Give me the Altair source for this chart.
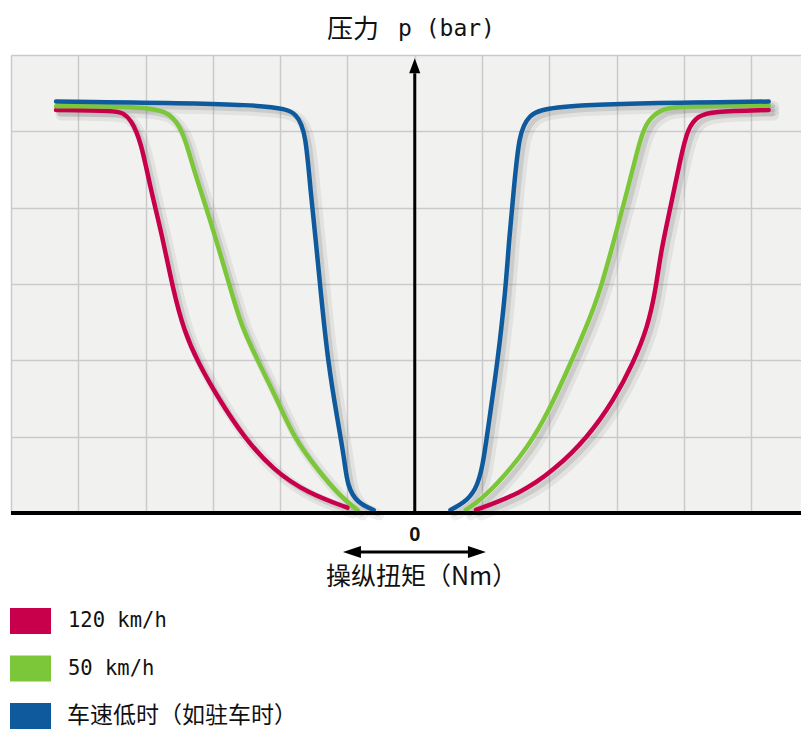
import altair as alt
import pandas as pd

# ---------------- data ----------------
series = ["120 km/h", "50 km/h", "车速低时（如驻车时）"]
colors = ["#C8004B", "#7CC63A", "#0F5A9C"]

red_left_x = [-5.33, -4.44, -4.34, -4.22, -4.07, -3.92, -3.77, -3.59, -3.43, -3.22, -2.93, -2.54, -2.10, -1.59, -1.00]
red_left_y = [5.28, 5.27, 5.24, 5.16, 4.88, 4.22, 3.70, 2.92, 2.39, 1.97, 1.52, 0.99, 0.56, 0.26, 0.07]
red_right_x = [0.91, 1.58, 2.07, 2.57, 2.96, 3.25, 3.46, 3.58, 3.66, 3.80, 3.95, 4.06, 4.21, 4.40, 5.26]
red_right_y = [0.04, 0.26, 0.56, 0.99, 1.48, 1.97, 2.43, 2.92, 3.44, 4.00, 4.65, 5.05, 5.20, 5.26, 5.28]

green_left_x = [-5.33, -3.82, -3.58, -3.43, -3.28, -3.08, -2.73, -2.59, -2.32, -2.04, -1.80, -1.44, -1.10, -0.85]
green_left_y = [5.33, 5.33, 5.18, 4.97, 4.48, 3.96, 2.92, 2.48, 1.97, 1.48, 0.99, 0.56, 0.21, 0.04]
green_right_x = [0.76, 0.98, 1.32, 1.68, 1.98, 2.32, 2.57, 2.76, 2.96, 3.16, 3.36, 3.46, 3.66, 3.91, 5.26]
green_right_y = [0.04, 0.17, 0.47, 0.86, 1.31, 1.97, 2.48, 2.92, 3.57, 4.22, 4.94, 5.14, 5.29, 5.33, 5.34]

blue_left_x = [-5.33, -2.04, -1.74, -1.62, -1.55, -1.47, -1.40, -1.29, -1.14, -1.05, -1.00, -0.85, -0.61]
blue_left_y = [5.39, 5.36, 5.23, 4.97, 4.22, 3.57, 2.92, 1.97, 1.18, 0.73, 0.34, 0.13, 0.04]
blue_right_x = [0.53, 0.73, 0.91, 1.01, 1.10, 1.23, 1.35, 1.40, 1.47, 1.55, 1.68, 1.98, 5.26]
blue_right_y = [0.04, 0.13, 0.30, 0.60, 1.18, 1.97, 2.92, 3.57, 4.22, 4.97, 5.20, 5.36, 5.39]

x_grid = [-6, -5, -4, -3, -2, -1, 0, 1, 2, 3, 4, 5]
y_grid = [0, 1, 2, 3, 4, 5, 6]

title_top_cjk = "压力"
title_top_lat = "p (bar)"
title_bottom = "操纵扭矩（Nm）"
zero_label = "0"

# ---------------- build table ----------------
rows = []
for name, parts in [
    (series[0], [(red_left_x, red_left_y), (red_right_x, red_right_y)]),
    (series[1], [(green_left_x, green_left_y), (green_right_x, green_right_y)]),
    (series[2], [(blue_left_x, blue_left_y), (blue_right_x, blue_right_y)]),
]:
    for k, (xs, ys) in enumerate(parts):
        for i, (xv, yv) in enumerate(zip(xs, ys)):
            rows.append({"series": name, "seg": f"{name}-{k}", "i": i, "x": xv, "y": yv})
df = pd.DataFrame(rows)

FONT = "Noto Sans CJK SC"
MONO = "DejaVu Sans Mono"
W, H = 790, 458

xscale = alt.Scale(domain=[-6, 5.74], nice=False, zero=False)
yscale = alt.Scale(domain=[0, 6], nice=False, zero=False)
xaxis = alt.Axis(values=x_grid, grid=True, labels=False, ticks=False, domain=False, title=None,
                 gridColor="#cacaca", gridWidth=1.5)
yaxis = alt.Axis(values=y_grid, grid=True, labels=False, ticks=False, domain=False, title=None,
                 gridColor="#cacaca", gridWidth=1.5)
cscale = alt.Scale(domain=series, range=colors)

base = alt.Chart(df).encode(
    x=alt.X("x:Q", scale=xscale, axis=xaxis),
    y=alt.Y("y:Q", scale=yscale, axis=yaxis),
    detail="seg:N",
    order="i:Q",
)

shadow1 = base.mark_line(interpolate="basis", color="#666666", strokeWidth=11, opacity=0.10,
                         xOffset=5, yOffset=5, strokeCap="round")
shadow2 = base.mark_line(interpolate="basis", color="#666666", strokeWidth=5, opacity=0.18,
                         xOffset=4, yOffset=4, strokeCap="round")
lines = base.mark_line(interpolate="basis", strokeWidth=4.5, strokeCap="round").encode(
    color=alt.Color("series:N", scale=cscale, legend=None)
)

one = pd.DataFrame({"k": [0]})

x_axis_line = alt.Chart(one).mark_rule(color="black", strokeWidth=4).encode(
    y=alt.datum(0), x=alt.value(0), x2=alt.value(W)
)
y_axis_line = alt.Chart(one).mark_rule(color="black", strokeWidth=3).encode(
    x=alt.datum(0), y=alt.datum(0), y2=alt.datum(5.76)
)
up_head = alt.Chart(one).mark_point(shape="M0,-1L0.37,0L-0.37,0Z", filled=True, color="black",
                                    size=900, opacity=1, strokeWidth=0).encode(
    x=alt.datum(0), y=alt.datum(5.76)
)

arrow_y = 497
dbl_line = alt.Chart(one).mark_rule(color="black", strokeWidth=3).encode(
    x=alt.datum(-0.9), x2=alt.datum(0.9), y=alt.value(arrow_y)
)
left_head = alt.Chart(one).mark_point(shape="M-1,0L0,-0.34L0,0.34Z", filled=True, color="black",
                                      size=1296, opacity=1, strokeWidth=0).encode(
    x=alt.datum(-0.80), y=alt.value(arrow_y)
)
right_head = alt.Chart(one).mark_point(shape="M1,0L0,-0.34L0,0.34Z", filled=True, color="black",
                                       size=1296, opacity=1, strokeWidth=0).encode(
    x=alt.datum(0.79), y=alt.value(arrow_y)
)

t_top1 = alt.Chart(pd.DataFrame({"t": [title_top_cjk]})).mark_text(
    font=FONT, fontSize=26, color="#111", align="left", baseline="middle"
).encode(text="t:N", x=alt.value(316), y=alt.value(-25))
t_top2 = alt.Chart(pd.DataFrame({"t": [title_top_lat]})).mark_text(
    font=MONO, fontSize=23, color="#111", align="left", baseline="middle"
).encode(text="t:N", x=alt.value(387), y=alt.value(-26))

t_bottom = alt.Chart(pd.DataFrame({"t": [title_bottom]})).mark_text(
    font=FONT, fontSize=25, color="#111", align="left", baseline="middle"
).encode(text="t:N", x=alt.value(315), y=alt.value(522))

t_zero = alt.Chart(pd.DataFrame({"t": [zero_label]})).mark_text(
    font="Liberation Sans", fontSize=20, fontWeight="bold", color="#111", align="center", baseline="middle"
).encode(text="t:N", x=alt.datum(0), y=alt.value(480))

main = alt.layer(shadow1, shadow2, lines, x_axis_line, y_axis_line, up_head,
                 dbl_line, left_head, right_head, t_top1, t_top2, t_bottom, t_zero)

leg_df = pd.DataFrame({"series": series})
leg_y = alt.Y("series:N", scale=alt.Scale(type="point", domain=series, range=[566, 661], padding=0),
              axis=None)
leg_sym = alt.Chart(leg_df).mark_point(shape="M-1,-0.634H1V0.634H-1Z", filled=True, size=1681,
                                       opacity=1, strokeWidth=0).encode(
    x=alt.value(19.5), y=leg_y, color=alt.Color("series:N", scale=cscale, legend=None)
)
leg_txt_lat = alt.Chart(leg_df.iloc[:2]).mark_text(font=MONO, fontSize=20.5, color="#111", align="left",
                                                   baseline="middle").encode(
    x=alt.value(57), y=leg_y, text="series:N"
)
leg_txt_cjk = alt.Chart(leg_df.iloc[2:]).mark_text(font=FONT, fontSize=23, color="#111", align="left",
                                                   baseline="middle").encode(
    x=alt.value(56), y=leg_y, text="series:N"
)
legend = alt.layer(leg_sym, leg_txt_lat, leg_txt_cjk)

chart = alt.layer(main, legend).resolve_scale(y="independent").properties(
    width=W, height=H,
    padding={"left": 3, "top": 47, "right": 0, "bottom": 219},
    autosize=alt.AutoSizeParams(type="none"),
    background="white",
).configure_view(fill="#f1f2f0", strokeWidth=0)

chart.save("out.html", embed_options={"renderer": "svg", "actions": False})
